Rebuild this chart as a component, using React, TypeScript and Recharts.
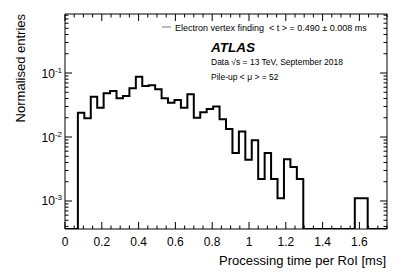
import React from 'react';
import {
  LineChart,
  Line,
  XAxis,
  YAxis,
  ReferenceArea,
} from 'recharts';

// histogram: 50 bins of 0.035 ms from 0 to 1.75 ms (normalised entries, 0 = empty bin)
const BIN_WIDTH = 0.035;
const BIN_VALUES = [
  0, 0, 0.024, 0.0196, 0.0427, 0.0287, 0.0482, 0.0523, 0.0403, 0.0438,
  0.0577, 0.0875, 0.0626, 0.0643, 0.0556, 0.0403, 0.0343, 0.0379, 0.0287, 0.0465,
  0.02, 0.0243, 0.0274, 0.03, 0.019, 0.0133, 0.0056, 0.0122, 0.0044, 0.0089,
  0.0022, 0.0056, 0.0022, 0.0011, 0.0045, 0.0034, 0.0022, 0, 0, 0,
  0, 0, 0, 0, 0, 0.0011, 0.0011, 0, 0, 0,
];

const X_MIN = 0;
const X_MAX = 1.75;
const Y_MIN = 3.65e-4;
const Y_MAX = 0.836;

const X_MAJOR = [0, 0.2, 0.4, 0.6, 0.8, 1, 1.2, 1.4, 1.6];
const X_LABELS = ['0', '0.2', '0.4', '0.6', '0.8', '1', '1.2', '1.4', '1.6'];
const Y_MAJOR = [0.1, 0.01, 0.001];
const Y_LABELS = ['-1', '-2', '-3'];

const LEGEND_LABEL = 'Electron vertex finding  < t > = 0.490 ± 0.008 ms';
const ATLAS_LINE = 'Data √s = 13 TeV, September 2018';
const PILEUP_LINE = 'Pile-up < μ > = 52';

// layout
const W = 407;
const H = 276;
const PLOT_LEFT = 65;
const PLOT_TOP = 14;
const PLOT_RIGHT = 387;
const PLOT_BOTTOM = 229;
const MAJOR_LEN = 7;
const MINOR_LEN = 3.5;
const FONT = '"Liberation Sans", Arial, Helvetica, sans-serif';

const xTicks: number[] = [];
for (let i = 0; i <= 35; i++) xTicks.push(Math.round(i * 5) / 100);

const yTicks: number[] = [];
[1e-4, 1e-3, 1e-2, 1e-1].forEach((d) => {
  for (let k = 1; k <= 9; k++) {
    const v = Number((k * d).toPrecision(3));
    if (v >= Y_MIN && v <= Y_MAX) yTicks.push(v);
  }
});

// step points at the lower bin edges, empty bins sit on the frame floor
const histData = BIN_VALUES.map((v, i) => ({
  x: Number((i * BIN_WIDTH).toFixed(3)),
  y: v > 0 ? v : Y_MIN,
}));
histData.push({ x: X_MAX, y: Y_MIN });

const isMajorX = (v: number) => X_MAJOR.some((m) => Math.abs(m - v) < 1e-6);

const XTick = (props: any) => {
  const { x, payload } = props;
  const v = payload.value as number;
  const idx = X_MAJOR.findIndex((m) => Math.abs(m - v) < 1e-6);
  const len = idx >= 0 ? MAJOR_LEN : MINOR_LEN;
  return (
    <g>
      <line x1={x} x2={x} y1={PLOT_BOTTOM} y2={PLOT_BOTTOM - len} stroke="#000" />
      <line x1={x} x2={x} y1={PLOT_TOP} y2={PLOT_TOP + len} stroke="#000" />
      {idx >= 0 && (
        <text x={x} y={PLOT_BOTTOM + 17} textAnchor="middle" fontSize={12} fontFamily={FONT} fill="#000">
          {X_LABELS[idx]}
        </text>
      )}
    </g>
  );
};

const YTick = (props: any) => {
  const { y, payload } = props;
  const v = payload.value as number;
  const idx = Y_MAJOR.findIndex((m) => Math.abs(m - v) / m < 1e-6);
  const len = idx >= 0 ? MAJOR_LEN : MINOR_LEN;
  return (
    <g>
      <line x1={PLOT_LEFT} x2={PLOT_LEFT + len} y1={y} y2={y} stroke="#000" />
      <line x1={PLOT_RIGHT} x2={PLOT_RIGHT - len} y1={y} y2={y} stroke="#000" />
      {idx >= 0 && (
        <text x={PLOT_LEFT - 3} y={y + 4.5} textAnchor="end" fontSize={12} fontFamily={FONT} fill="#000">
          10
          <tspan dy={-5} fontSize={8}>
            {Y_LABELS[idx]}
          </tspan>
        </text>
      )}
    </g>
  );
};

export default function App() {
  return (
    <div style={{ position: 'absolute', left: 0, top: 0, width: W, height: H, background: '#fff' }}>
      <LineChart
        width={W}
        height={H}
        data={histData}
        margin={{ top: PLOT_TOP, right: W - PLOT_RIGHT, bottom: 0, left: 0 }}
      >
        <XAxis
          dataKey="x"
          type="number"
          domain={[X_MIN, X_MAX]}
          ticks={xTicks}
          interval={0}
          height={H - PLOT_BOTTOM}
          tickSize={0}
          tickMargin={0}
          axisLine={false}
          tickLine={false}
          tick={<XTick />}
          allowDataOverflow
        />
        <YAxis
          type="number"
          scale="log"
          domain={[Y_MIN, Y_MAX]}
          ticks={yTicks}
          interval={0}
          width={PLOT_LEFT}
          tickSize={0}
          tickMargin={0}
          axisLine={false}
          tickLine={false}
          tick={<YTick />}
          allowDataOverflow
        />
        <ReferenceArea
          x1={X_MIN}
          x2={X_MAX}
          y1={Y_MIN}
          y2={Y_MAX}
          fill="none"
          stroke="#000"
          strokeWidth={1}
          ifOverflow="visible"
        />
        <Line
          dataKey="y"
          type="stepAfter"
          stroke="#000"
          strokeWidth={2}
          dot={false}
          activeDot={false}
          isAnimationActive={false}
        />
      </LineChart>
      <svg
        width={W}
        height={H}
        style={{ position: 'absolute', left: 0, top: 0, pointerEvents: 'none' }}
        fontFamily={FONT}
      >
        <text transform={`translate(25,${PLOT_TOP}) rotate(-90)`} textAnchor="end" fontSize={13} fill="#000">
          Normalised entries
        </text>
        <text x={PLOT_RIGHT - 1} y={265} textAnchor="end" fontSize={13} fill="#000">
          Processing time per RoI [ms]
        </text>
        <line x1={162} x2={171} y1={27} y2={27} stroke="#777" />
        <text x={175} y={30.5} fontSize={9} fill="#000" style={{ whiteSpace: 'pre' }}>
          {LEGEND_LABEL}
        </text>
        <text x={211} y={52} fontSize={13.5} fontWeight="bold" fontStyle="italic" fill="#000">
          ATLAS
        </text>
        <text x={211} y={64.5} fontSize={8.5} fill="#000">
          {ATLAS_LINE}
        </text>
        <text x={211} y={79.5} fontSize={8.5} fill="#000">
          {PILEUP_LINE}
        </text>
      </svg>
    </div>
  );
}
